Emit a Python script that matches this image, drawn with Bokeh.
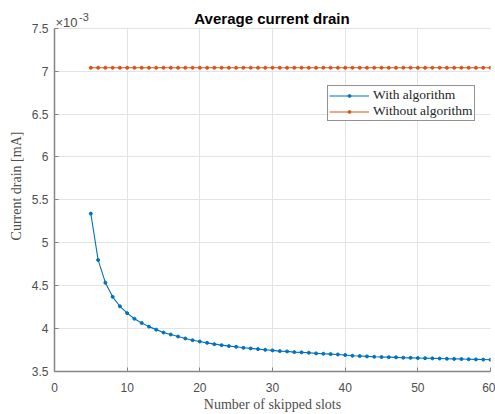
from bokeh.plotting import figure
from bokeh.models import Range1d, FixedTicker, Label, Legend, LegendItem, BoxAnnotation
from bokeh.embed import file_html
from bokeh.resources import INLINE

# data (current in units of 1e-3 mA)
slots = [5, 6, 7, 8, 9, 10, 11, 12, 13, 14, 15, 16, 17, 18, 19, 20,
         21, 22, 23, 24, 25, 26, 27, 28, 29, 30, 31, 32, 33, 34, 35, 36,
         37, 38, 39, 40, 41, 42, 43, 44, 45, 46, 47, 48, 49, 50, 51, 52,
         53, 54, 55, 56, 57, 58, 59, 60]
with_alg = [5.34, 4.80, 4.535, 4.37, 4.26, 4.18, 4.115, 4.065, 4.023, 3.988,
            3.954, 3.931, 3.908, 3.885, 3.865, 3.850, 3.834, 3.819, 3.807, 3.796,
            3.788, 3.776, 3.769, 3.761, 3.753, 3.746, 3.738, 3.734, 3.726, 3.723,
            3.719, 3.711, 3.707, 3.703, 3.699, 3.692, 3.684, 3.680, 3.676, 3.672,
            3.669, 3.667, 3.665, 3.661, 3.659, 3.657, 3.655, 3.653, 3.651, 3.649,
            3.647, 3.645, 3.643, 3.641, 3.639, 3.637]
without_alg = [7.04, 7.04, 7.04, 7.04, 7.04, 7.04, 7.04, 7.04, 7.04, 7.04,
               7.04, 7.04, 7.04, 7.04, 7.04, 7.04, 7.04, 7.04, 7.04, 7.04,
               7.04, 7.04, 7.04, 7.04, 7.04, 7.04, 7.04, 7.04, 7.04, 7.04,
               7.04, 7.04, 7.04, 7.04, 7.04, 7.04, 7.04, 7.04, 7.04, 7.04,
               7.04, 7.04, 7.04, 7.04, 7.04, 7.04, 7.04, 7.04, 7.04, 7.04,
               7.04, 7.04, 7.04, 7.04, 7.04, 7.04]
x_ticks = [0, 10, 20, 30, 40, 50, 60]
y_ticks = [3.5, 4.0, 4.5, 5.0, 5.5, 6.0, 6.5, 7.0, 7.5]
y_tick_labels = {3.5: "3.5", 4.0: "4", 4.5: "4.5", 5.0: "5", 5.5: "5.5",
                 6.0: "6", 6.5: "6.5", 7.0: "7", 7.5: "7.5"}
title_text = "Average current drain"

BLUE = "#0072BD"
RED = "#D95319"
AXIS = "#858585"
TXT = "#4d4d4d"

Y_MIN, Y_MAX = 3.5, 7.5
# frame extended upward by 28px so the title area lies inside it
Y_TOP = Y_MAX + (Y_MAX - Y_MIN) * 28 / 346

p = figure(width=495, height=414, output_backend="svg", toolbar_location=None,
           x_range=Range1d(0, 60), y_range=Range1d(Y_MIN, Y_TOP),
           min_border_left=54, min_border_right=5, min_border_top=0,
           min_border_bottom=40)
p.title = None
p.outline_line_color = None
p.background_fill_color = "white"
p.border_fill_color = "white"

for ax in (p.xaxis[0], p.yaxis[0]):
    ax.axis_line_color = AXIS
    ax.axis_line_width = 1.5
    ax.major_tick_line_color = AXIS
    ax.major_tick_in = 4
    ax.major_tick_out = 0
    ax.minor_tick_line_color = None
    ax.major_label_text_font = "Liberation Sans"
    ax.major_label_text_font_size = "12px"
    ax.major_label_text_color = TXT
    ax.axis_label_text_font = "Liberation Serif"
    ax.axis_label_text_font_style = "normal"
    ax.axis_label_text_font_size = "14px"
    ax.axis_label_text_color = TXT

p.yaxis[0].bounds = (Y_MIN, Y_MAX)
p.xaxis[0].major_label_standoff = 11
p.xaxis[0].axis_label_standoff = 2
p.yaxis[0].major_label_standoff = 6
p.yaxis[0].axis_label_standoff = 5

p.xaxis[0].ticker = FixedTicker(ticks=x_ticks)
p.yaxis[0].ticker = FixedTicker(ticks=y_ticks)
p.yaxis[0].major_label_overrides = y_tick_labels
p.xaxis[0].axis_label = "Number of skipped slots"
p.yaxis[0].axis_label = "Current drain [mA]"

p.xgrid.grid_line_color = "#e3e3e3"
p.ygrid.grid_line_color = "#e3e3e3"
p.xgrid.ticker = FixedTicker(ticks=x_ticks)
p.ygrid.ticker = FixedTicker(ticks=y_ticks)

# white band above the axes box (hides grid lines in the title area)
p.add_layout(BoxAnnotation(bottom=Y_MAX + 0.006, fill_color="white", fill_alpha=1,
                           line_color=None, level="underlay"))
p.xgrid.level = "image"
p.ygrid.level = "image"

l1 = p.line(slots, with_alg, line_color=BLUE, line_width=1.1)
s1 = p.scatter(slots, with_alg, marker="circle", size=3, fill_color=BLUE, line_color=BLUE)
l2 = p.line(slots, without_alg, line_color=RED, line_width=1.1)
s2 = p.scatter(slots, without_alg, marker="circle", size=3, fill_color=RED, line_color=RED)

legend = Legend(items=[LegendItem(label="With algorithm", renderers=[l1, s1]),
                       LegendItem(label="Without algorithm", renderers=[l2, s2])],
                location=(273, 250))
legend.label_text_font = "Liberation Serif"
legend.label_text_font_size = "13.5px"
legend.label_text_color = "#262626"
legend.border_line_color = "#262626"
legend.border_line_width = 1
legend.background_fill_alpha = 1
legend.glyph_width = 40
legend.glyph_height = 7
legend.label_height = 13
legend.spacing = 0
legend.padding = 1
legend.margin = 0
legend.label_standoff = 4
p.add_layout(legend, "center")

title = Label(x=217.5, y=353, x_units="screen", y_units="screen", text=title_text,
              text_align="center", text_baseline="alphabetic", level="overlay",
              text_font="Liberation Sans", text_font_size="15px",
              text_font_style="bold", text_color="#000000")
exp1 = Label(x=1, y=349, x_units="screen", y_units="screen", text="×10",
             text_baseline="alphabetic", level="overlay",
             text_font="Liberation Sans", text_font_size="13px", text_color=TXT)
exp2 = Label(x=24.5, y=355, x_units="screen", y_units="screen", text="-3",
             text_baseline="alphabetic", level="overlay",
             text_font="Liberation Sans", text_font_size="11px", text_color=TXT)
p.add_layout(title)
p.add_layout(exp1)
p.add_layout(exp2)

open("out.html", "w").write(file_html(p, INLINE))
